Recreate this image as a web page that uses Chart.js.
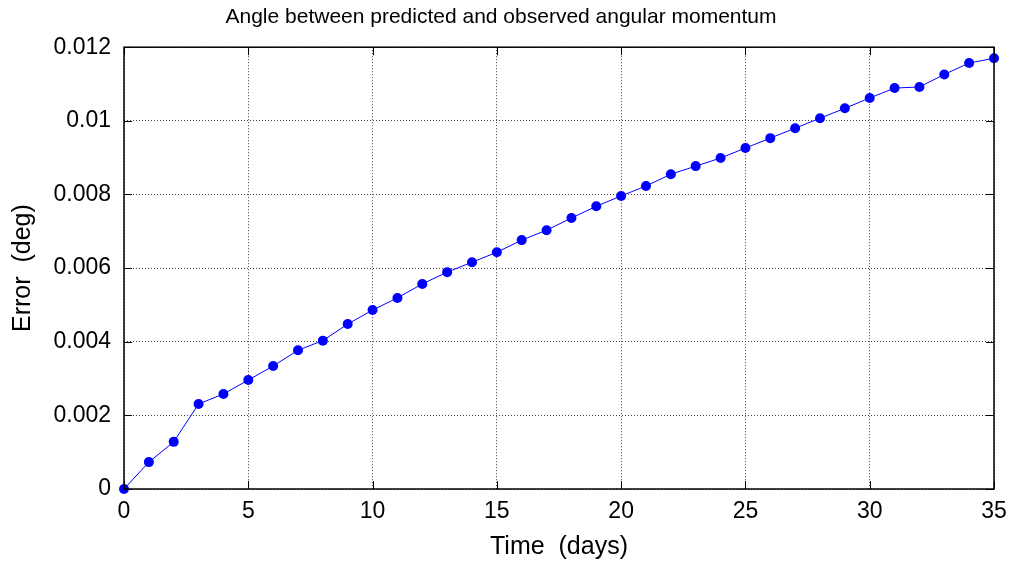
<!DOCTYPE html>
<html>
<head>
<meta charset="utf-8">
<script src="https://cdn.jsdelivr.net/npm/chart.js@4"></script>
<style>
  html, body { margin: 0; padding: 0; background: #fff; }
  #wrap { width: 1010px; height: 562px; }
</style>
</head>
<body>
<div id="wrap"><canvas id="grafico" width="1010" height="562"></canvas></div>
<script>
const days = [0, 1, 2, 3, 4, 5, 6, 7, 8, 9, 10, 11, 12, 13, 14, 15, 16, 17,
  18, 19, 20, 21, 22, 23, 24, 25, 26, 27, 28, 29, 30, 31, 32, 33, 34, 35];
const errors = [0, 0.00073, 0.00128, 0.00231, 0.00258, 0.00296, 0.00334, 0.00377,
  0.00403, 0.00448, 0.00486, 0.00519, 0.00557, 0.00589, 0.00616, 0.00643,
  0.00676, 0.00703, 0.00736, 0.00768, 0.00796, 0.00823, 0.00855, 0.00877,
  0.00899, 0.00926, 0.00953, 0.00980, 0.01007, 0.01034, 0.01062, 0.01089,
  0.01092, 0.01126, 0.01157, 0.01170];
const xTicks = [0, 5, 10, 15, 20, 25, 30, 35];
const yTicks = [0, 0.002, 0.004, 0.006, 0.008, 0.01, 0.012];

const fonte = 'Liberation Sans, Arial, sans-serif';

// caixa preta em volta e marcas de escala para dentro (estilo MATLAB)
const caixa = {
  id: 'caixa',
  afterDraw(chart) {
    const c = chart.ctx, a = chart.chartArea;
    const sx = chart.scales.x, sy = chart.scales.y;
    c.save();
    c.strokeStyle = '#000';
    c.lineWidth = 1;
    c.beginPath();
    xTicks.forEach(v => {
      const px = Math.round(sx.getPixelForValue(v)) + 0.5;
      c.moveTo(px, a.bottom); c.lineTo(px, a.bottom - 8);
      c.moveTo(px, a.top); c.lineTo(px, a.top + 8);
    });
    yTicks.forEach(v => {
      const py = Math.round(sy.getPixelForValue(v)) + 0.5;
      c.moveTo(a.left, py); c.lineTo(a.left + 8, py);
      c.moveTo(a.right, py); c.lineTo(a.right - 8, py);
    });
    c.stroke();
    c.lineWidth = 1.5;
    c.strokeRect(a.left, a.top, a.right - a.left, a.bottom - a.top);
    c.restore();
  }
};

const ctx = document.getElementById('grafico').getContext('2d');

const grafico = new Chart(ctx, {
  type: 'line',
  data: {
    datasets: [{
      data: days.map((d, i) => ({ x: d, y: errors[i] })),
      borderColor: '#0000ff',
      backgroundColor: '#0000ff',
      borderWidth: 1,
      pointRadius: 5,
      pointBorderWidth: 0,
      pointBackgroundColor: '#0000ff',
      tension: 0,
      clip: false
    }]
  },
  options: {
    responsive: false,
    animation: false,
    layout: { padding: { left: 8, right: 16, top: 0, bottom: 0 } },
    plugins: {
      legend: { display: false },
      tooltip: { enabled: false },
      title: {
        display: true,
        text: 'Angle between predicted and observed angular momentum',
        color: '#000',
        font: { family: fonte, size: 21, weight: 'normal' },
        padding: { top: 5, bottom: 17 }
      }
    },
    scales: {
      x: {
        type: 'linear',
        min: 0,
        max: 35,
        afterBuildTicks: s => { s.ticks = xTicks.map(v => ({ value: v })); },
        afterFit: s => { s.height = 73; s.paddingLeft = 0; s.paddingRight = 0; },
        ticks: {
          color: '#000',
          font: { family: fonte, size: 23 },
          padding: 9,
          maxRotation: 0
        },
        grid: {
          color: '#444',
          drawTicks: false
        },
        border: { display: false, dash: [1, 2] },
        title: {
          display: true,
          text: 'Time  (days)',
          color: '#000',
          font: { family: fonte, size: 25 },
          padding: { top: 0, bottom: 0 }
        }
      },
      y: {
        type: 'linear',
        min: 0,
        max: 0.012,
        afterBuildTicks: s => { s.ticks = yTicks.map(v => ({ value: v })); },
        afterFit: s => { s.width = 116; s.paddingTop = 0; s.paddingBottom = 0; },
        ticks: {
          color: '#000',
          font: { family: fonte, size: 23 },
          padding: 13,
          callback: v => String(+v.toFixed(3))
        },
        grid: {
          color: '#444',
          drawTicks: false
        },
        border: { display: false, dash: [1, 2] },
        title: {
          display: true,
          text: 'Error  (deg)',
          color: '#000',
          font: { family: fonte, size: 25 },
          padding: { top: 0, bottom: 0 }
        }
      }
    }
  },
  plugins: [caixa]
});
</script>
</body>
</html>
